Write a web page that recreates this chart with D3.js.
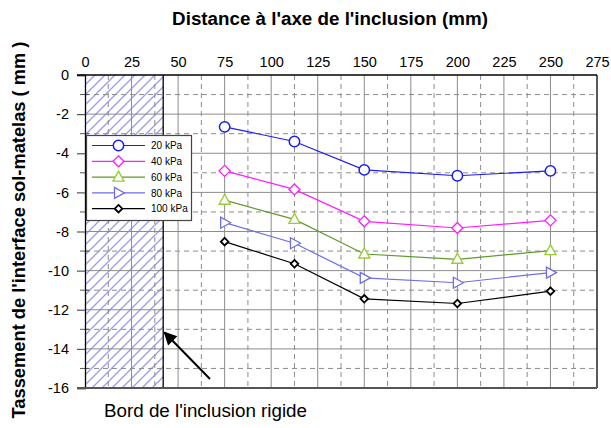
<!DOCTYPE html>
<html><head><meta charset="utf-8">
<script src="https://cdn.jsdelivr.net/npm/d3@7"></script>
<style>body{margin:0;background:#fff;} svg{display:block;font-family:"Liberation Sans",Arial,sans-serif;}</style>
</head><body>
<svg id="c" width="611" height="428"></svg>
<script>
const xValues = [75, 112.5, 150, 200, 250];
const seriesNames = ["20 kPa", "40 kPa", "60 kPa", "80 kPa", "100 kPa"];
const s20 = [-2.65, -3.4, -4.85, -5.15, -4.9];
const s40 = [-4.9, -5.85, -7.48, -7.82, -7.43];
const s60 = [-6.4, -7.38, -9.15, -9.42, -8.98];
const s80 = [-7.55, -8.6, -10.37, -10.62, -10.1];
const s100 = [-8.52, -9.65, -11.44, -11.68, -11.05];
const xTicks = [0,25,50,75,100,125,150,175,200,225,250,275];
const yTicks = [0,-2,-4,-6,-8,-10,-12,-14,-16];
const inclusionEdge = 42;
const titleText = "Distance à l'axe de l'inclusion (mm)";
const yTitleText = "Tassement de l'interface sol-matelas ( mm )";
const noteText = "Bord de l'inclusion rigide";

const svg = d3.select("#c");
const x = d3.scaleLinear().domain([0,275]).range([85,597]);
const y = d3.scaleLinear().domain([0,-16]).range([75,388]);

const defs = svg.append("defs");
const pat = defs.append("pattern").attr("id","hatch").attr("patternUnits","userSpaceOnUse")
  .attr("width",10).attr("height",10);
pat.append("rect").attr("width",10).attr("height",10).attr("fill","#fff");
pat.append("path").attr("d","M-1,11 L11,-1 M-2,2 L2,-2 M8,12 L12,8").attr("stroke","#9a9af5").attr("stroke-width",1.3);
defs.append("marker").attr("id","arrow").attr("viewBox","0 0 10 10").attr("refX",9).attr("refY",5)
  .attr("markerWidth",8).attr("markerHeight",6.5).attr("orient","auto").attr("markerUnits","strokeWidth")
  .append("path").attr("d","M0,0 L10,5 L0,10 z").attr("fill","#000");

// hatch region
svg.append("rect").attr("x",x(0)).attr("y",y(0)).attr("width",x(inclusionEdge)-x(0)).attr("height",y(-16)-y(0))
  .attr("fill","url(#hatch)");

// grid
const g = svg.append("g");
const minorX = d3.range(12.5, 275, 25);
const majorX = d3.range(25, 275, 25);
const minorY = d3.range(-1, -16, -2);
const majorY = d3.range(-2, -16, -2);
g.selectAll(".mx").data(minorX).join("line").attr("x1",d=>x(d)).attr("x2",d=>x(d)).attr("y1",y(0)).attr("y2",y(-16))
  .attr("stroke","#8c8c8c").attr("stroke-dasharray","5,4");
g.selectAll(".my").data(minorY).join("line").attr("y1",d=>y(d)).attr("y2",d=>y(d)).attr("x1",x(0)).attr("x2",x(275))
  .attr("stroke","#8c8c8c").attr("stroke-dasharray","5,4");
g.selectAll(".Mx").data(majorX).join("line").attr("x1",d=>x(d)).attr("x2",d=>x(d)).attr("y1",y(0)).attr("y2",y(-16))
  .attr("stroke","#8c8c8c");
g.selectAll(".My").data(majorY).join("line").attr("y1",d=>y(d)).attr("y2",d=>y(d)).attr("x1",x(0)).attr("x2",x(275))
  .attr("stroke","#8c8c8c");

// hatch borders
svg.append("line").attr("x1",x(inclusionEdge)).attr("x2",x(inclusionEdge)).attr("y1",y(0)).attr("y2",y(-16)).attr("stroke","#000").attr("stroke-width",1.3);

// minor y ticks
svg.selectAll(".myt").data(minorY).join("line").attr("x1",x(0)-5).attr("x2",x(0)+4).attr("y1",d=>y(d)).attr("y2",d=>y(d)).attr("stroke","#555");

// axes
const yAxis = svg.append("g").attr("transform",`translate(${x(0)},0)`)
  .call(d3.axisLeft(y).tickValues(yTicks).tickSize(8).tickPadding(8).tickFormat(d=>String(d)));
yAxis.select(".domain").attr("stroke","#000").attr("stroke-width",1.3);
yAxis.selectAll(".tick line").attr("stroke","#555").attr("stroke-width",1.2);
yAxis.selectAll("text").attr("font-size",14.5).attr("fill","#000").attr("font-family","Liberation Sans, Arial, sans-serif");

const xAxis = svg.append("g").attr("transform",`translate(0,${y(0)})`)
  .call(d3.axisTop(x).tickValues(xTicks).tickSize(0).tickPadding(8).tickFormat(d=>String(d)));
xAxis.select(".domain").remove();
xAxis.selectAll("text").attr("font-size",14.5).attr("fill","#000").attr("font-family","Liberation Sans, Arial, sans-serif");

// frame
svg.append("line").attr("x1",77).attr("x2",x(275)).attr("y1",y(0)).attr("y2",y(0)).attr("stroke","#000").attr("stroke-width",1.5);
svg.append("line").attr("x1",x(275)).attr("x2",x(275)).attr("y1",y(0)).attr("y2",y(-16)).attr("stroke","#000").attr("stroke-width",1.3);
svg.append("line").attr("x1",77).attr("x2",x(275)).attr("y1",y(-16)).attr("y2",y(-16)).attr("stroke","#555").attr("stroke-width",2);

// series
const series = [
  {name:seriesNames[0], vals:s20, line:"#1c1cf0", mk:"#1c1cf0", shape:"circle"},
  {name:seriesNames[1], vals:s40, line:"#ff1cff", mk:"#ff1cff", shape:"diamond"},
  {name:seriesNames[2], vals:s60, line:"#5f9a2a", mk:"#9ccc3a", shape:"triup"},
  {name:seriesNames[3], vals:s80, line:"#6e6ee8", mk:"#6e6ee8", shape:"triright"},
  {name:seriesNames[4], vals:s100, line:"#000", mk:"#000", shape:"sdiamond"}
];
function drawMarker(sel, s, cx, cy){
  if(s.shape==="circle") sel.append("circle").attr("cx",cx).attr("cy",cy).attr("r",5.2).attr("fill","#fff").attr("stroke",s.mk).attr("stroke-width",1.5);
  else if(s.shape==="diamond") sel.append("path").attr("d",`M${cx},${cy-5.5}L${cx+5.5},${cy}L${cx},${cy+5.5}L${cx-5.5},${cy}Z`).attr("fill","#fff").attr("stroke",s.mk).attr("stroke-width",1.3);
  else if(s.shape==="triup") sel.append("path").attr("d",`M${cx},${cy-6}L${cx+5.5},${cy+4}L${cx-5.5},${cy+4}Z`).attr("fill","#fff").attr("stroke",s.mk).attr("stroke-width",1.4);
  else if(s.shape==="triright") sel.append("path").attr("d",`M${cx+6},${cy}L${cx-4},${cy+5.5}L${cx-4},${cy-5.5}Z`).attr("fill","#fff").attr("stroke",s.mk).attr("stroke-width",1.3);
  else sel.append("path").attr("d",`M${cx},${cy-3.8}L${cx+3.8},${cy}L${cx},${cy+3.8}L${cx-3.8},${cy}Z`).attr("fill","#fff").attr("stroke",s.mk).attr("stroke-width",1.8);
}
const line = d3.line().x(d=>x(d[0])).y(d=>y(d[1]));
series.forEach(s=>{
  const pts = xValues.map((xv,i)=>[xv,s.vals[i]]);
  svg.append("path").attr("d",line(pts)).attr("fill","none").attr("stroke",s.line).attr("stroke-width",1.2);
  const mg = svg.append("g");
  pts.forEach(p=>drawMarker(mg, s, x(p[0]), y(p[1])));
});

// legend
const lg = svg.append("g");
lg.append("rect").attr("x",86.5).attr("y",135.5).attr("width",105).attr("height",85).attr("fill","#fff").attr("stroke","#444").attr("stroke-width",1.2);
series.forEach((s,i)=>{
  const ly = 145.5 + i*15.8;
  lg.append("line").attr("x1",92).attr("x2",145).attr("y1",ly).attr("y2",ly).attr("stroke",s.line).attr("stroke-width",1.2);
  drawMarker(lg, s, 118.5, ly);
  lg.append("text").attr("x",151).attr("y",ly+3.6).attr("font-size",10).text(s.name);
});

// arrow
svg.append("line").attr("x1",210).attr("y1",379).attr("x2",164.5).attr("y2",332.5).attr("stroke","#000").attr("stroke-width",2).attr("marker-end","url(#arrow)");

// titles
svg.append("text").attr("x",330).attr("y",25).attr("text-anchor","middle").attr("font-weight","bold").attr("font-size",18.8).text(titleText);
svg.append("text").attr("transform","translate(25,230) rotate(-90)").attr("text-anchor","middle").attr("font-weight","bold").attr("font-size",18.3).text(yTitleText);
svg.append("text").attr("x",104).attr("y",417).attr("font-size",18.8).text(noteText);
</script>
</body></html>
